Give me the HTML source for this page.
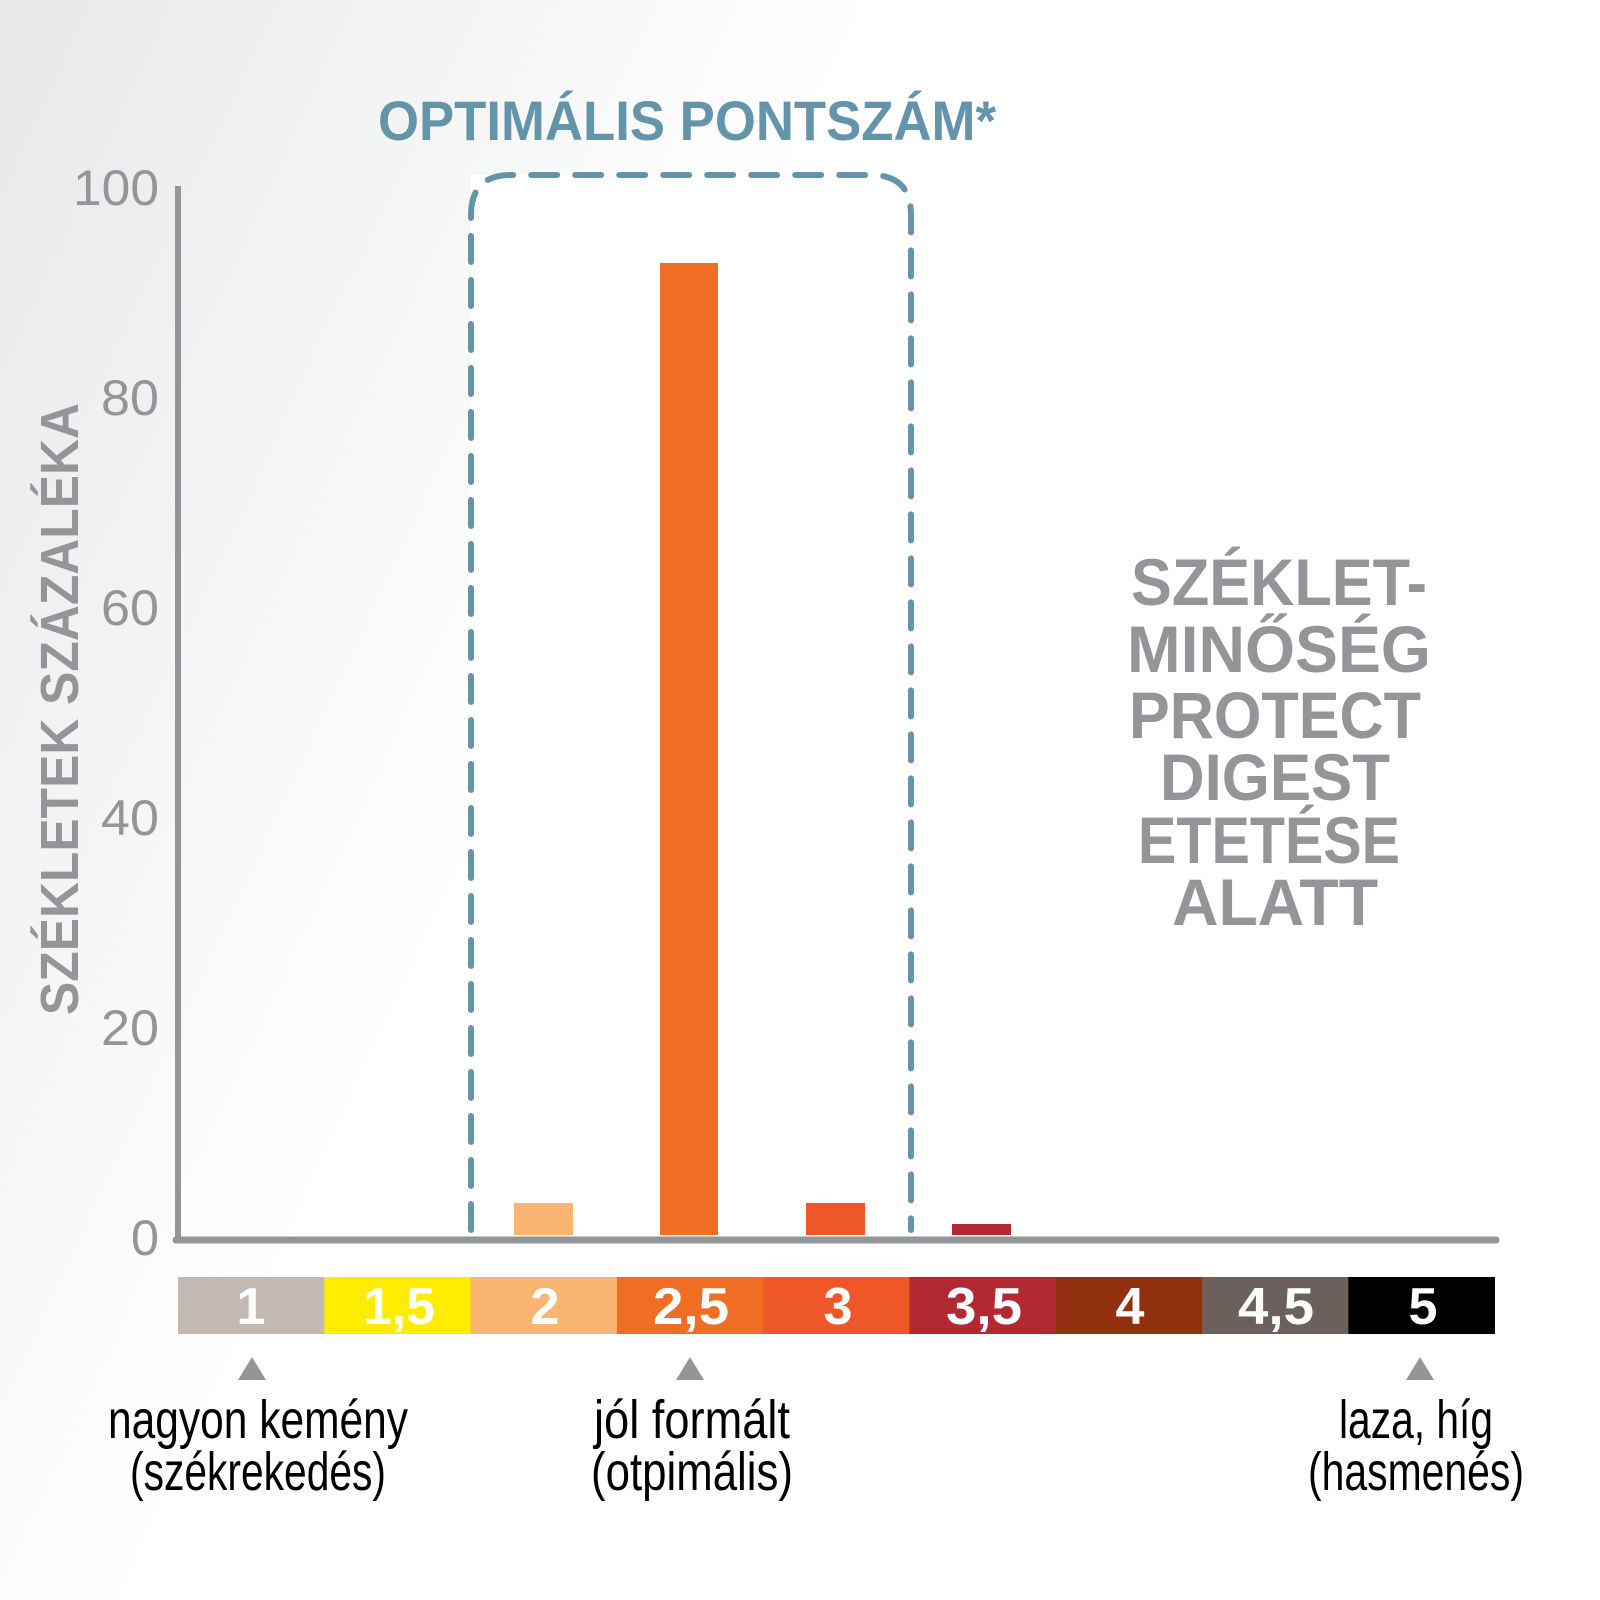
<!DOCTYPE html>
<html><head><meta charset="utf-8"><style>
html,body{margin:0;padding:0;width:1600px;height:1600px;overflow:hidden;background:#fff}
svg{display:block}
</style></head><body>
<svg width="1600" height="1600" viewBox="0 0 1600 1600" xmlns="http://www.w3.org/2000/svg" font-family="Liberation Sans, sans-serif">
<defs>
<linearGradient id="bg" x1="0" y1="0.1" x2="0.75" y2="0.45">
<stop offset="0" stop-color="#e9eaeb"/>
<stop offset="0.55" stop-color="#ffffff"/>
</linearGradient>
</defs>
<rect width="1600" height="1600" fill="url(#bg)"/>
<rect x="471" y="175" width="440" height="1060" fill="#fff"/>

<text x="378" y="140" font-size="56" font-weight="bold" fill="#6494aa" textLength="618" lengthAdjust="spacingAndGlyphs">OPTIMÁLIS PONTSZÁM*</text>

<path d="M471,1230 L471,215 Q471,175 511,175 L871,175 Q911,175 911,215 L911,1230" fill="none" stroke="#6494aa" stroke-width="6" stroke-dasharray="26,18" stroke-linecap="round"/>

<rect x="514" y="1203" width="59" height="32" fill="#fbb572"/>
<rect x="660" y="263" width="58" height="972" fill="#ef6e23"/>
<rect x="806" y="1203" width="59" height="32" fill="#ef5628"/>
<rect x="952" y="1224" width="59" height="11" fill="#b22833"/>

<line x1="178" y1="186" x2="178" y2="1238" stroke="#939598" stroke-width="6"/>
<line x1="176" y1="1240" x2="1496" y2="1240" stroke="#939598" stroke-width="7" stroke-linecap="round"/>

<g font-size="50" fill="#939598" text-anchor="end">
<text x="159" y="205" textLength="86" lengthAdjust="spacingAndGlyphs">100</text>
<text x="159" y="415" textLength="58" lengthAdjust="spacingAndGlyphs">80</text>
<text x="159" y="625" textLength="58" lengthAdjust="spacingAndGlyphs">60</text>
<text x="159" y="835" textLength="58" lengthAdjust="spacingAndGlyphs">40</text>
<text x="159" y="1045" textLength="58" lengthAdjust="spacingAndGlyphs">20</text>
<text x="159" y="1255" textLength="28" lengthAdjust="spacingAndGlyphs">0</text>
</g>

<text transform="translate(78,1015) rotate(-90)" font-size="54" font-weight="bold" fill="#939598" textLength="612" lengthAdjust="spacingAndGlyphs">SZÉKLETEK SZÁZALÉKA</text>

<g font-size="66" font-weight="bold" fill="#939598" text-anchor="middle">
<text x="1279" y="605" textLength="296" lengthAdjust="spacingAndGlyphs">SZÉKLET-</text>
<text x="1279" y="672" textLength="304" lengthAdjust="spacingAndGlyphs">MINŐSÉG</text>
<text x="1275" y="738" textLength="292" lengthAdjust="spacingAndGlyphs">PROTECT</text>
<text x="1275" y="800" textLength="230" lengthAdjust="spacingAndGlyphs">DIGEST</text>
<text x="1269" y="863" textLength="262" lengthAdjust="spacingAndGlyphs">ETETÉSE</text>
<text x="1275" y="925" textLength="206" lengthAdjust="spacingAndGlyphs">ALATT</text>
</g>

<rect x="178" y="1277" width="147" height="57" fill="#c3b9b3"/>
<rect x="324.3" y="1277" width="147" height="57" fill="#ffec00"/>
<rect x="470.6" y="1277" width="147" height="57" fill="#fbb572"/>
<rect x="616.9" y="1277" width="147" height="57" fill="#ef6e23"/>
<rect x="763.2" y="1277" width="147" height="57" fill="#ef5628"/>
<rect x="909.5" y="1277" width="147" height="57" fill="#b22833"/>
<rect x="1055.8" y="1277" width="147" height="57" fill="#90300e"/>
<rect x="1202.1" y="1277" width="147" height="57" fill="#6b605b"/>
<rect x="1348.4" y="1277" width="146.6" height="57" fill="#000"/>
<g font-size="52" font-weight="bold" fill="#fff" text-anchor="middle">
<text x="251" y="1324">1</text>
<text x="399" y="1324" textLength="72" lengthAdjust="spacingAndGlyphs">1,5</text>
<text x="545" y="1324">2</text>
<text x="691" y="1324" textLength="76" lengthAdjust="spacingAndGlyphs">2,5</text>
<text x="838" y="1324">3</text>
<text x="984" y="1324" textLength="76" lengthAdjust="spacingAndGlyphs">3,5</text>
<text x="1130" y="1324">4</text>
<text x="1276" y="1324" textLength="76" lengthAdjust="spacingAndGlyphs">4,5</text>
<text x="1423" y="1324">5</text>
</g>

<g fill="#939598">
<polygon points="252,1357 238,1380 266,1380"/>
<polygon points="690,1357 676,1380 704,1380"/>
<polygon points="1420,1357 1406,1380 1434,1380"/>
</g>

<g font-size="54" fill="#000" text-anchor="middle">
<text x="258" y="1438" textLength="300" lengthAdjust="spacingAndGlyphs">nagyon kemény</text>
<text x="258" y="1490" textLength="256" lengthAdjust="spacingAndGlyphs">(székrekedés)</text>
<text x="692" y="1438" textLength="196" lengthAdjust="spacingAndGlyphs">jól formált</text>
<text x="692" y="1490" textLength="202" lengthAdjust="spacingAndGlyphs">(otpimális)</text>
<text x="1416" y="1438" textLength="154" lengthAdjust="spacingAndGlyphs">laza, híg</text>
<text x="1416" y="1490" textLength="216" lengthAdjust="spacingAndGlyphs">(hasmenés)</text>
</g>
</svg>
</body></html>
